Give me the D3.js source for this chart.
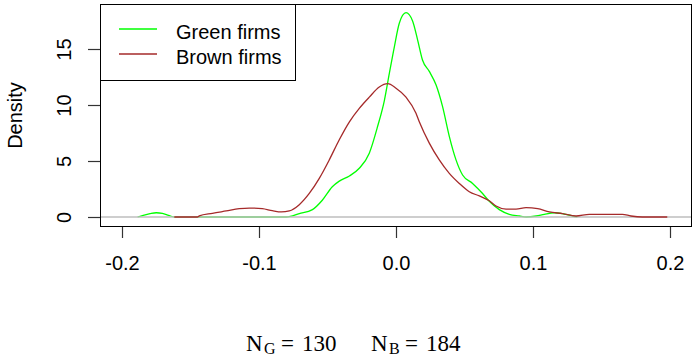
<!DOCTYPE html>
<html>
<head>
<meta charset="utf-8">
<script src="https://cdn.jsdelivr.net/npm/d3@7"></script>
<style>
  html, body { margin: 0; padding: 0; background: #fff; }
  svg { display: block; }
</style>
</head>
<body>
<svg id="chart" width="695" height="356"></svg>
<script>
// ---- data ----
const greenX = [-0.1886,-0.1845,-0.1795,-0.175,-0.1705,-0.1660,-0.1618,-0.120,-0.080,-0.0706,-0.061,-0.0538,-0.0465,-0.0414,-0.034,-0.0268,-0.0195,-0.0134,-0.0085,-0.0049,-0.0012,0.0024,0.0073,0.0121,0.0158,0.0194,0.0243,0.0292,0.034,0.0389,0.0438,0.0486,0.0559,0.0632,0.0681,0.0754,0.0827,0.090,0.095,0.1024,0.1082,0.1155,0.1214,0.1287,0.1324];
const greenY = [0,0.15,0.3,0.38,0.32,0.15,0,0,0,0.3,0.66,1.5,2.7,3.2,3.66,4.35,5.7,8.1,10.4,12.8,15.2,17.3,18.24,17.5,15.8,14.0,13.0,11.8,9.85,7.2,5.1,3.75,3.0,2.1,1.4,0.66,0.24,0.09,0,0.09,0.24,0.38,0.3,0.09,0];
const brownX = [-0.1618,-0.145,-0.1436,-0.134,-0.1239,-0.1144,-0.1071,-0.0976,-0.0903,-0.0837,-0.0779,-0.0706,-0.0633,-0.056,-0.0487,-0.0414,-0.034,-0.0268,-0.0195,-0.0122,-0.0061,0,0.0073,0.0146,0.017,0.0243,0.0316,0.0389,0.0462,0.0535,0.0608,0.0681,0.073,0.0803,0.0876,0.0949,0.1034,0.1119,0.1216,0.1314,0.1411,0.1652,0.1715,0.1798,0.198];
const brownY = [0,0,0.1,0.33,0.54,0.74,0.8,0.74,0.56,0.45,0.54,1.1,2.1,3.45,5.1,6.9,8.5,9.7,10.7,11.6,11.9,11.5,10.7,9.26,8.5,6.6,5.1,3.9,3.0,2.26,1.88,1.45,0.98,0.71,0.71,0.83,0.74,0.45,0.3,0.09,0.24,0.24,0.09,0,0];
const xTicks = [-0.2, -0.1, 0.0, 0.1, 0.2];
const xTickLabels = ["-0.2", "-0.1", "0.0", "0.1", "0.2"];
const yTicks = [0, 5, 10, 15];
const yTickLabels = ["0", "5", "10", "15"];
const seriesNames = ["Green firms", "Brown firms"];
const seriesColors = ["#00ff00", "#a52a2a"];
const nGreen = 130, nBrown = 184;

// ---- layout ----
const svg = d3.select("#chart");
const box = { left: 100, right: 692, top: 4, bottom: 227 };
const x = d3.scaleLinear().domain([-0.2, 0.2]).range([122, 670]);
const y = d3.scaleLinear().domain([0, 15]).range([217, 49]);

const line = d3.line().x(d => x(d[0])).y(d => y(d[1])).curve(d3.curveMonotoneX);
const green = greenX.map((v, i) => [v, greenY[i]]);
const brown = brownX.map((v, i) => [v, brownY[i]]);

// green curve
svg.append("path").datum(green).attr("d", line)
  .attr("fill", "none").attr("stroke", seriesColors[0]).attr("stroke-width", 1.3);

// zero reference line
svg.append("line").attr("x1", box.left).attr("x2", box.right)
  .attr("y1", y(0)).attr("y2", y(0)).attr("stroke", "#bebebe").attr("stroke-width", 1.3);

// brown curve
svg.append("path").datum(brown).attr("d", line)
  .attr("fill", "none").attr("stroke", seriesColors[1]).attr("stroke-width", 1.3);

// plot box
svg.append("rect").attr("x", box.left + 0.5).attr("y", box.top + 0.5)
  .attr("width", box.right - box.left - 1).attr("height", box.bottom - box.top - 1)
  .attr("fill", "none").attr("stroke", "#000").attr("stroke-width", 1);

// x axis
const xAxis = d3.axisBottom(x).tickValues(xTicks).tickSize(11).tickPadding(18)
  .tickFormat((d, i) => xTickLabels[i]);
const gx = svg.append("g").attr("transform", `translate(0,${box.bottom})`).call(xAxis);
gx.select(".domain").remove();
gx.selectAll("line").attr("stroke", "#333").attr("stroke-width", 1.2);
gx.selectAll("text").attr("font-size", 20).attr("fill", "#000")
  .attr("font-family", "'Liberation Sans', Arial, sans-serif");

// y axis
const yAxis = d3.axisLeft(y).tickValues(yTicks).tickSize(12).tickFormat((d, i) => yTickLabels[i]);
const gy = svg.append("g").attr("transform", `translate(${box.left},0)`).call(yAxis);
gy.select(".domain").remove();
gy.selectAll("line").attr("stroke", "#333").attr("stroke-width", 1.2);
gy.selectAll("text").remove();
gy.selectAll(".tick").append("text")
  .attr("transform", "translate(-29,0) rotate(-90)")
  .attr("text-anchor", "middle")
  .attr("font-family", "'Liberation Sans', Arial, sans-serif")
  .attr("font-size", 20).attr("fill", "#000")
  .text((d, i) => yTickLabels[i]);

// y title
svg.append("text").attr("transform", `translate(22,${(box.top + box.bottom) / 2}) rotate(-90)`)
  .attr("text-anchor", "middle").attr("font-family", "'Liberation Sans', Arial, sans-serif")
  .attr("font-size", 20).attr("fill", "#000").text("Density");

// legend
const leg = svg.append("g");
leg.append("rect").attr("x", box.left + 0.5).attr("y", box.top + 0.5)
  .attr("width", 195).attr("height", 76).attr("fill", "#fff").attr("stroke", "#000").attr("stroke-width", 1);
seriesNames.forEach((name, i) => {
  const cy = 29 + i * 25;
  leg.append("line").attr("x1", 119).attr("x2", 157).attr("y1", cy).attr("y2", cy)
    .attr("stroke", seriesColors[i]).attr("stroke-width", 1.3);
  leg.append("text").attr("x", 176).attr("y", cy + 10)
    .attr("font-family", "'Liberation Sans', Arial, sans-serif").attr("font-size", 20)
    .attr("fill", "#000").text(name);
});

// bottom annotation
const ann = svg.append("text").attr("font-family", "'Liberation Serif', 'Times New Roman', serif")
  .attr("fill", "#000").attr("font-size", 23);
ann.append("tspan").attr("x", 246).attr("y", 351).text("N");
ann.append("tspan").attr("x", 264).attr("y", 353.5).attr("font-size", 16).text("G");
ann.append("tspan").attr("x", 281).attr("y", 351).text("=");
ann.append("tspan").attr("x", 302).attr("y", 351).text(String(nGreen));
ann.append("tspan").attr("x", 371).attr("y", 351).text("N");
ann.append("tspan").attr("x", 389).attr("y", 353.5).attr("font-size", 16).text("B");
ann.append("tspan").attr("x", 405).attr("y", 351).text("=");
ann.append("tspan").attr("x", 426).attr("y", 351).text(String(nBrown));
</script>
</body>
</html>
